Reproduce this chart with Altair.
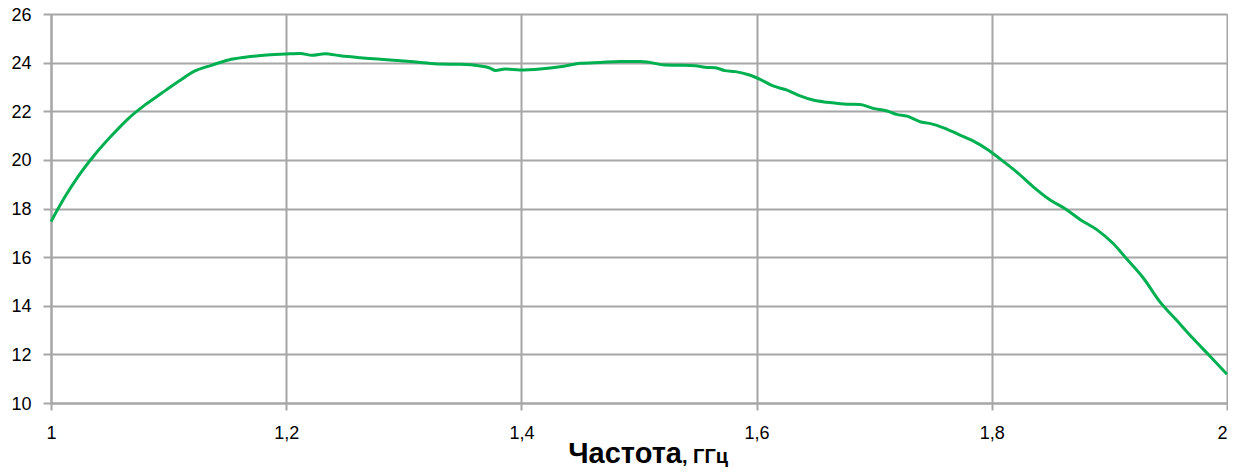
import altair as alt
import pandas as pd

freq = [1.000, 1.012, 1.023, 1.037, 1.052, 1.066, 1.080, 1.094, 1.108, 1.122,
        1.137, 1.151, 1.165, 1.181, 1.199, 1.212, 1.222, 1.233, 1.246, 1.263,
        1.280, 1.297, 1.314, 1.331, 1.348, 1.365, 1.373, 1.378, 1.386, 1.399,
        1.416, 1.433, 1.450, 1.467, 1.484, 1.501, 1.509, 1.522, 1.535, 1.548,
        1.556, 1.565, 1.573, 1.582, 1.594, 1.603, 1.614, 1.626, 1.637, 1.648,
        1.660, 1.674, 1.688, 1.699, 1.711, 1.719, 1.728, 1.739, 1.747, 1.759,
        1.773, 1.784, 1.796, 1.807, 1.821, 1.835, 1.849, 1.864, 1.875, 1.889,
        1.903, 1.915, 1.929, 1.943, 1.957, 1.971, 1.986, 2.000]
gain = [17.46, 18.49, 19.31, 20.20, 21.02, 21.71, 22.26, 22.74, 23.21, 23.65,
        23.90, 24.11, 24.22, 24.30, 24.35, 24.38, 24.30, 24.37, 24.28, 24.20,
        24.14, 24.08, 24.01, 23.94, 23.93, 23.86, 23.78, 23.68, 23.74, 23.70,
        23.74, 23.83, 23.97, 24.01, 24.05, 24.05, 24.01, 23.90, 23.89, 23.87,
        23.81, 23.79, 23.67, 23.63, 23.49, 23.31, 23.04, 22.87, 22.63, 22.46,
        22.37, 22.30, 22.28, 22.12, 22.01, 21.87, 21.80, 21.57, 21.50, 21.32,
        21.02, 20.78, 20.44, 20.04, 19.51, 18.90, 18.37, 17.94, 17.55, 17.14,
        16.57, 15.91, 15.13, 14.16, 13.41, 12.66, 11.90, 11.18]

x_ticks = [1.0, 1.2, 1.4, 1.6, 1.8, 2.0]
y_ticks = [10, 12, 14, 16, 18, 20, 22, 24, 26]
title_main = "Частота"
title_unit = ", ГГц"

df = pd.DataFrame({"f": freq, "g": gain})

W, H = 1176, 389
GRID = "#a6a6a6"
FONT = "Liberation Sans"

line = alt.Chart(df).mark_line(
    color="#00b050", strokeWidth=3, interpolate="monotone"
).encode(
    x=alt.X("f:Q", scale=alt.Scale(domain=[1, 2], nice=False),
            axis=alt.Axis(values=x_ticks, title=None, grid=True,
                          gridColor=GRID, gridWidth=2,
                          domainColor=GRID, domainWidth=2,
                          tickColor=GRID, tickWidth=2, tickSize=7,
                          labelFont=FONT, labelFontSize=18, labelColor="#000",
                          labelPadding=14, labelFlush=False,
                          labelAlign=alt.ExprRef(expr="datum.value >= 2 ? 'right' : 'center'"),
                          labelExpr="replace(format(datum.value, '~g'), '.', ',')")),
    y=alt.Y("g:Q", scale=alt.Scale(domain=[10, 26], nice=False),
            axis=alt.Axis(values=y_ticks, title=None, grid=True,
                          gridColor=GRID, gridWidth=2,
                          domainColor=GRID, domainWidth=2,
                          tickColor=GRID, tickWidth=2, tickSize=8,
                          labelFont=FONT, labelFontSize=18, labelColor="#000",
                          labelPadding=12, labelOffset=1)),
)

t1 = alt.Chart(pd.DataFrame({"t": [title_main]})).mark_text(
    font=FONT, fontSize=29, fontWeight="bold", align="right",
    baseline="alphabetic", color="#000"
).encode(text="t:N", x=alt.value(631), y=alt.value(449))

t2 = alt.Chart(pd.DataFrame({"t": [title_unit]})).mark_text(
    font=FONT, fontSize=20, fontWeight="bold", align="left",
    baseline="alphabetic", color="#000"
).encode(text="t:N", x=alt.value(631), y=alt.value(449))

chart = alt.layer(line, t1, t2).properties(
    width=W, height=H,
    autosize=alt.AutoSizeParams(type="none"),
    padding={"left": 43, "top": 6, "right": 1, "bottom": 66},
).configure_view(stroke=GRID, strokeWidth=2).configure(background="white")

chart.save("out.html", embed_options={"renderer": "svg", "actions": False})
